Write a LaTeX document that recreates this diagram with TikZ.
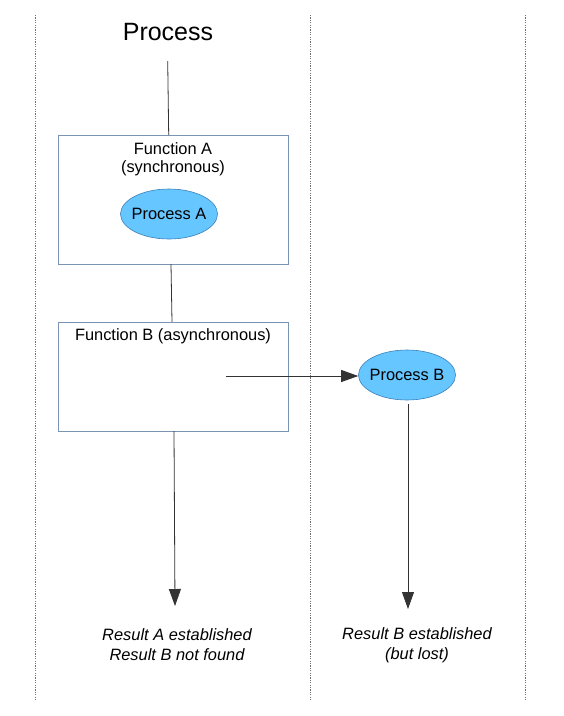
\documentclass[tikz,border=0pt]{standalone}
\usepackage{fontspec}
\setmainfont{Liberation Sans}
\usetikzlibrary{shapes.geometric,arrows.meta}
\definecolor{boxline}{HTML}{7A94B4}
\definecolor{ellfill}{HTML}{66C6FF}
\definecolor{ellline}{HTML}{3A7FB8}
\definecolor{conn}{HTML}{333333}
\tikzset{
  lane/.style={draw=gray!90!black, dash pattern=on 1.2pt off 1.2pt, line width=0.9pt},
  funcbox/.style={draw=boxline, line width=1pt, minimum width=230pt, anchor=north west, inner sep=0pt},
  proc/.style={ellipse, draw=ellline, fill=ellfill, line width=0.6pt, minimum width=97pt, minimum height=50pt, inner xsep=-4pt, inner ysep=0pt, font=\fontsize{16.4}{18}\selectfont},
  lbl/.style={font=\fontsize{16.4}{18}\selectfont, inner sep=0pt},
  res/.style={font=\fontsize{16.4}{20}\selectfont\itshape, align=center, inner sep=0pt},
  link/.style={draw=conn, line width=0.8pt},
  arr/.style={link, -{Triangle[length=17pt,width=12pt]}}
}
\begin{document}
\begin{tikzpicture}[x=1pt,y=-1pt]
\useasboundingbox (0,0) rectangle (564,716);
% lanes
\coordinate (l1t) at (35,15); \coordinate (l1b) at (35,700);
\coordinate (l2t) at (310,15); \coordinate (l2b) at (310,700);
\coordinate (l3t) at (525,15); \coordinate (l3b) at (525,700);
\draw[lane] (l1t) -- (l1b);
\draw[lane] (l2t) -- (l2b);
\draw[lane] (l3t) -- (l3b);
% title
\node[font=\fontsize{25}{27}\selectfont, inner sep=0pt] (title) at (168,32) {Process};
\coordinate (titlebot) at (167.7,61);
% boxes
\node[funcbox, minimum height=129pt] (fa) at (58,135) {};
\node[funcbox, minimum height=109pt] (fb) at (58,322) {};
\node[lbl] (fatext1) at (173,149) {Function A};
\node[lbl] (fatext2) at (173,168) {(synchronous)};
\node[lbl] (fbtext) at (173,336) {Function B (asynchronous)};
\node[proc] (pa) at (169,214) {Process A};
\node[proc] (pb) at (407,375) {Process B};
% connectors
\draw[link] (titlebot) -- (168.7,135);
\draw[link] (171,264) -- (172,322);
\coordinate (async) at (226,376);
\draw[arr] (async) -- (pb.west |- async);
\coordinate (ra) at (175,606);
\coordinate (rb) at (408,609);
\draw[arr] (174,431) -- (ra);
\draw[arr] (408,404) -- (rb);
% results
\node[res] (resa) at (177,645) {Result A established\\Result B not found};
\node[res] (resb) at (417,645) {Result B established\\(but lost)};
\end{tikzpicture}
\end{document}
